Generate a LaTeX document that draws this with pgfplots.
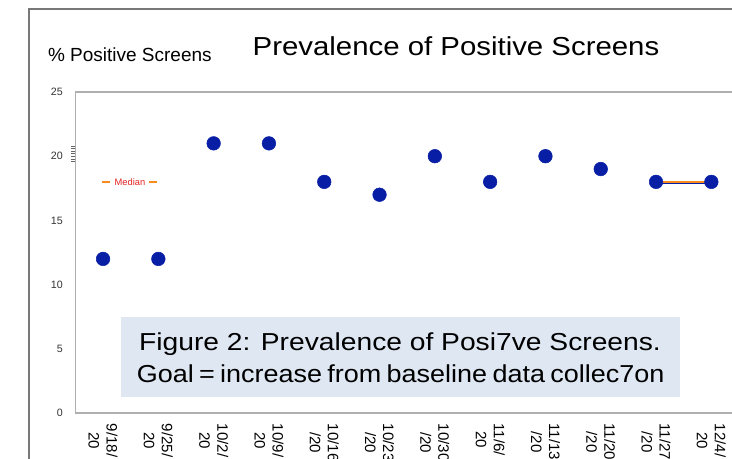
\documentclass[border=0pt]{standalone}
\usepackage{fontspec}
\setmainfont{Liberation Sans}
\usepackage{graphicx}
\usepackage{pgfplots}
\pgfplotsset{compat=1.18}
\definecolor{dotblue}{RGB}{8,30,165}
\definecolor{medorange}{RGB}{247,140,30}
\definecolor{medred}{RGB}{225,35,35}
\definecolor{boxfill}{RGB}{222,231,242}
\definecolor{framegray}{RGB}{120,120,120}
\definecolor{axgray}{RGB}{175,175,175}
\begin{document}
\begin{tikzpicture}
\path[use as bounding box, clip] (0,0) rectangle (549pt,343.5pt);
\draw[framegray, line width=1.1pt] (21.75pt,-5pt) -- (21.75pt,336.75pt) -- (560pt,336.75pt);
\begin{axis}[
  at={(56.55pt,33.75pt)}, anchor=south west,
  scale only axis, width=497.7pt, height=240.75pt,
  xmin=-0.5, xmax=11.5, ymin=0, ymax=25,
  ytick={0,5,...,25},
  xtick={0,...,11},
  xticklabels={{9/18/\\20},{9/25/\\20},{10/2/\\20},{10/9/\\20},{10/16\\/20},{10/23\\/20},{10/30\\/20},{11/6/\\20},{11/13\\/20},{11/20\\/20},{11/27\\/20},{12/4/\\20}},
  xticklabel style={yshift=-4.5pt, rotate=-90, anchor=west, align=center, font=\fontsize{11.3pt}{13.5pt}\selectfont},
  yticklabel style={xshift=-6pt, font=\fontsize{8pt}{9pt}\selectfont, text=black!80},
  major tick length=0pt,
  axis line style={axgray, line width=1.3pt},
  /pgf/number format/assume math mode=true,
  extra y ticks={19.6,19.8,20,20.2,20.4,20.6,20.8},
  extra y tick style={yticklabel={}, major tick length=3pt, tick align=outside, tick style={black!60, line width=0.4pt}},
]
\addplot[only marks, mark=*, mark size=5.1pt, color=dotblue] coordinates {
  (0,12) (1,12) (2,21) (3,21) (4,18) (5,17) (6,20) (7,18) (8,20) (9,19) (10,18) (11,18)
};
\addplot[dotblue, line width=1.2pt, yshift=-1pt] coordinates {(10,18) (11,18)};
\addplot[medorange, line width=2pt] coordinates {(10,18) (11,18)};
\node[font=\fontsize{7pt}{8pt}\selectfont, text=medred, inner sep=0pt] at (axis cs:0.48,18)
  {\textcolor{medorange}{\rule[1.9pt]{6pt}{1.6pt}}\hspace{3.5pt}Median\hspace{3pt}\textcolor{medorange}{\rule[1.9pt]{6pt}{1.6pt}}};
\end{axis}
\node[anchor=base, xscale=1.13, font=\fontsize{19.5pt}{23pt}\selectfont] at (342pt,301.5pt) {Prevalence of Positive Screens};
\node[anchor=base, font=\fontsize{14.25pt}{17pt}\selectfont] at (97.4pt,297.2pt) {\% Positive Screens};
\fill[boxfill] (90.75pt,45.75pt) rectangle (510pt,106pt);
\node[anchor=base, xscale=1.15, font=\fontsize{18.4pt}{22pt}\selectfont] at (300pt,80.5pt) {Figure 2: Prevalence of Posi7ve Screens.};
\node[anchor=base, xscale=1.1, font=\fontsize{18.4pt}{22pt}\selectfont] at (300.5pt,56.5pt) {\spaceskip=3.6pt\relax Goal = increase from baseline data collec7on};
\end{tikzpicture}
\end{document}
